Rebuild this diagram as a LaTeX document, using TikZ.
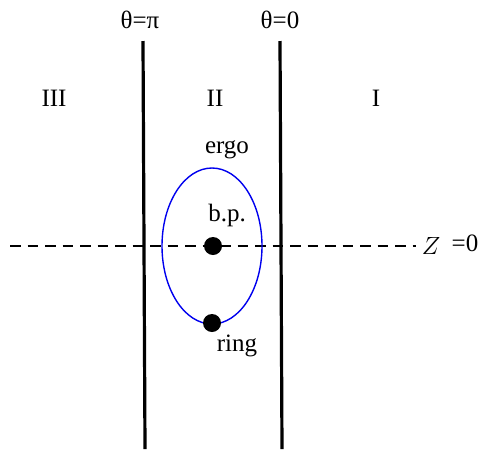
\documentclass[tikz,border=0pt]{standalone}
\usepackage{fontspec}
\setmainfont{Liberation Serif}
\usepackage{tikz}
\usetikzlibrary{positioning, calc}
\definecolor{ergoblue}{HTML}{0000EE}

\begin{document}
\begin{tikzpicture}[
    x=1pt, y=-1pt,
    txt/.style={font=\fontsize{25}{30}\selectfont, inner sep=0pt},
    wall/.style={line width=3.2pt, black},
    axis/.style={dash pattern=on 10.5pt off 7pt, line width=1.6pt},
    dot/.style={circle, fill=black, minimum size=18pt, inner sep=0pt}
]
\useasboundingbox (0,0) rectangle (479,451);

% Walls
\coordinate (Ptop) at (143,41);
\coordinate (Pbot) at (145,449);
\coordinate (Ztop) at (280,41);
\coordinate (Zbot) at (282,449);
\draw[wall] (Ptop) -- (Pbot);
\draw[wall] (Ztop) -- (Zbot);
\node[txt] (thpi) at (140,20) {θ=π};
\node[txt] (thzero) at (280,20) {θ=0};

% Regions
\node[txt] (III) at (54,98) {III};
\node[txt] (II) at (215,98) {II};
\node[txt] (I) at (376,98) {I};

% Axis
\coordinate (Astart) at (10,246);
\coordinate (Aend) at (416,246);
\draw[axis] (Astart) -- (Aend);
\node[txt] (Z) at (431,246) {$Z$};
\node[txt] (eq) at (465,243) {=0};

% Ergo region
\draw[ergoblue, line width=1.4pt] (212,246) ellipse [x radius=50, y radius=78];
\node[txt] (ergo) at (227,150) {ergo};
\node[dot] (bp) at (213,246) {};
\node[txt, above=10pt of bp, xshift=14pt] (bplab) {b.p.};
\node[dot] (ring) at (212,323) {};
\node[txt, below=3pt of ring, xshift=25pt] (ringlab) {ring};
\end{tikzpicture}
\end{document}
